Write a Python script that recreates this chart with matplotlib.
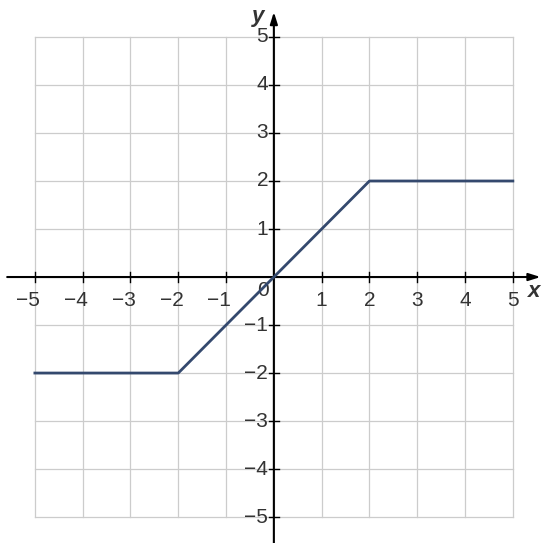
import matplotlib
matplotlib.use("Agg")
import matplotlib.pyplot as plt

plt.rcParams['font.family'] = ['Liberation Sans', 'DejaVu Sans']

# piecewise function data
x_vals = [-5, -2, 2, 5]
y_vals = [-2, -2, 2, 2]
ticks = [-5, -4, -3, -2, -1, 1, 2, 3, 4, 5]

fig = plt.figure(figsize=(5.42, 5.43), dpi=100)
ax = fig.add_axes([0, 0, 1, 1])
ax.set_xlim(-5.73, 5.61)
ax.set_ylim(-5.54, 5.77)
ax.axis("off")

# grid
for t in range(-5, 6):
    ax.plot([t, t], [-5, 5], color="#cccccc", lw=0.9, zorder=1)
    ax.plot([-5, 5], [t, t], color="#cccccc", lw=0.9, zorder=1)

# axes with arrows
ax.annotate("", xy=(5.58, 0), xytext=(-5.58, 0), annotation_clip=False,
            arrowprops=dict(arrowstyle="-|>,head_length=0.7,head_width=0.22", color="black", lw=1.5,
                            shrinkA=0, shrinkB=0))
ax.annotate("", xy=(0, 5.52), xytext=(0, -5.54), annotation_clip=False,
            arrowprops=dict(arrowstyle="-|>,head_length=0.7,head_width=0.22", color="black", lw=1.5,
                            shrinkA=0, shrinkB=0))

# tick marks and labels
for t in ticks:
    ax.plot([t, t], [-0.1, 0.1], color="black", lw=1, zorder=3)
    ax.plot([-0.1, 0.1], [t, t], color="black", lw=1, zorder=3)
    if t < 0:
        ax.text(t + 0.11, -0.29, "\u2212" + str(-t), ha="right", va="top", fontsize=15, color="#333333")
    else:
        ax.text(t, -0.29, str(t), ha="center", va="top", fontsize=15, color="#333333")
    ax.text(-0.12, t, str(t).replace("-", "\u2212"), ha="right", va="center", fontsize=15, color="#333333")
ax.text(-0.23, -0.29, "0", ha="center", va="center", fontsize=15, color="#333333")

ax.text(5.44, -0.3, "x", ha="center", va="center", fontsize=16, style="italic", fontweight="bold", color="#333333")
ax.text(-0.33, 5.42, "y", ha="center", va="center", fontsize=16, style="italic", fontweight="bold", color="#333333")

ax.plot(x_vals, y_vals, color="#34496e", lw=2, zorder=4)

fig.savefig("out.png", dpi=100)
